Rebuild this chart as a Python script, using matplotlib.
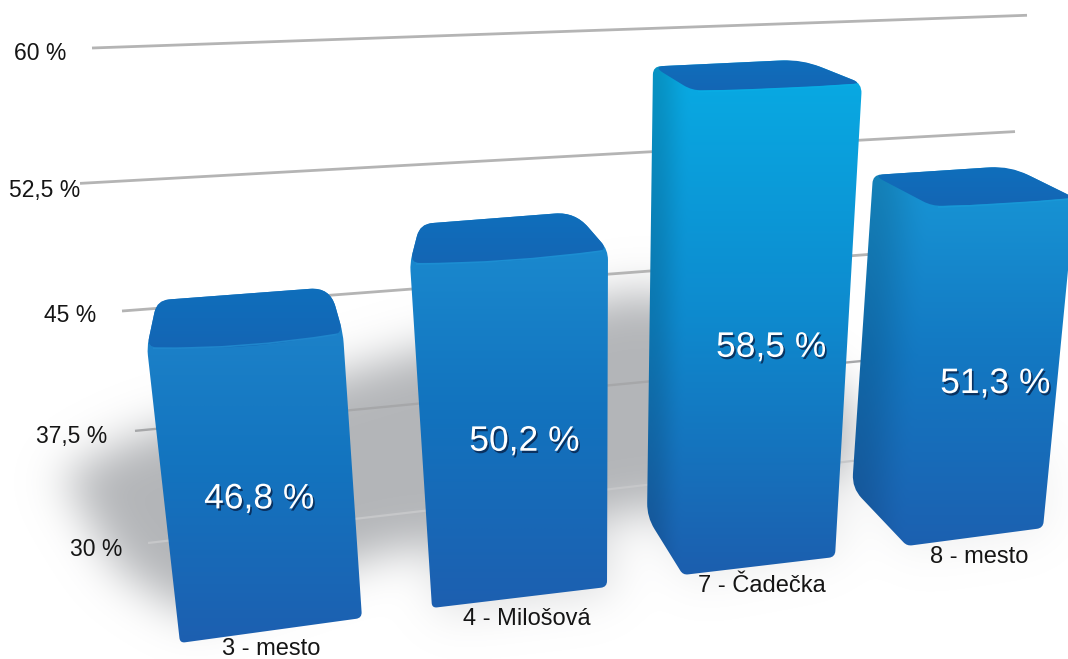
import numpy as np
import matplotlib
matplotlib.use("Agg")
import matplotlib.pyplot as plt
import matplotlib.patheffects as pe
from matplotlib.colors import LinearSegmentedColormap, to_rgb
from matplotlib.patches import PathPatch
from matplotlib.path import Path

# data
categories = ["3 - mesto", "4 - Milošová", "7 - Čadečka", "8 - mesto"]
values = [46.8, 50.2, 58.5, 51.3]
grid_values = [30, 37.5, 45, 52.5, 60]

W, H = 1068, 659
plt.rcParams["font.family"] = ["Liberation Sans", "DejaVu Sans"]

# the picture is a tilted 3d render, so the layout is given in pixels per bar
px_per_unit = [17.6, 17.08, 17.0, 15.96]
base_left = [(180, 643), (432, 608), (683, 575), (907, 546)]
base_right = [(362, 618), (607, 587), (835, 557), (1043, 528)]
side_base = [None, None, (647, 517), (852, 488)]
front_left_x = [147, 410, 692, 932]
front_right = [(343, -14), (608, -13), (862, -7), (1075, -8)]
back_left = [(157, -47), (420, -39), (653, -24), (873, -31)]
back_right = [(330, -60), (575, -51), (802, -31), (1010, -40)]
front_sag = [8, 6, 2, 2]
face_colors = [("#1F86CC", "#1374BF", "#1D5FB0"),
               ("#1C8ED2", "#1273BE", "#1D5FB0"),
               ("#08ACE4", "#0E8ACE", "#1C5EAE"),
               ("#1898D7", "#1378C2", "#1C60B0")]
label_nudge = [(1, -6), (10, -5), (3, 3), (6, -4)]
cat_pos = [(271, 649), (527, 619), (762, 586), (979, 557)]
tick_pos = [(96, 550), (72, 436), (70, 315), (45, 190), (40, 53)]
grid_x0 = [148, 135, 122, 80, 92]
grid_x1 = [1000, 1000, 1020, 1015, 1027]
grid_cols = ["#C6C7C9", "#A6A7A9", "#B4B4B4", "#B4B4B4", "#B4B4B4"]
grid_lw = [1.6, 1.7, 2.0, 2.0, 2.0]


def rounded(pts, radii):
    """Closed path through pts with the corners cut by quadratic curves."""
    verts, codes = [], []
    n = len(pts)
    for i in range(n):
        p = np.array(pts[i], float)
        a = np.array(pts[i - 1], float)
        b = np.array(pts[(i + 1) % n], float)
        ra = min(radii[i], np.linalg.norm(a - p) / 2)
        rb = min(radii[i], np.linalg.norm(b - p) / 2)
        p0 = p + (a - p) / np.linalg.norm(a - p) * ra
        p1 = p + (b - p) / np.linalg.norm(b - p) * rb
        verts += [p0, p, p1]
        codes += [Path.MOVETO if i == 0 else Path.LINETO, Path.CURVE3, Path.CURVE3]
    verts.append(verts[0])
    codes.append(Path.CLOSEPOLY)
    return Path(verts, codes)


def blurred(polys, sigma):
    """Polygon mask on the pixel grid, gaussian blurred through a padded fft."""
    yy, xx = np.mgrid[0:H, 0:W]
    grid = np.c_[xx.ravel() + 0.5, yy.ravel() + 0.5]
    mask = np.zeros((H, W))
    for poly, strength in polys:
        inside = Path(poly).contains_points(grid).reshape(H, W)
        mask = np.maximum(mask, inside * strength)
    size = (2 * H, 2 * W)  # padding keeps the blur from wrapping round the edges
    fy = np.fft.fftfreq(size[0])[:, None]
    fx = np.fft.rfftfreq(size[1])[None, :]
    kernel = np.exp(-2 * (np.pi * sigma) ** 2 * (fx ** 2 + fy ** 2))
    out = np.fft.irfft2(np.fft.rfft2(mask, s=size) * kernel, s=size)[:H, :W]
    return np.clip(out, 0, 1)


fig = plt.figure(figsize=(W / 100, H / 100), dpi=100)
ax = fig.add_axes([0, 0, 1, 1])

# soft floor shadow behind the bars
shadow = blurred([
    ([(62, 475), (130, 440), (380, 362), (630, 292), (700, 300), (850, 400),
      (855, 470), (625, 512), (385, 552), (190, 615), (120, 570)], 1.0),
    ([(640, 500), (840, 480), (840, 550), (690, 578)], 0.3),
    ([(860, 480), (1045, 450), (1045, 530), (910, 550)], 0.22),
    ([(430, 540), (612, 520), (612, 592), (440, 612)], 0.45),
], 22)
rgba = np.ones((H, W, 4))
rgba[..., :3] = to_rgb("#B3B5B8")
rgba[..., 3] = shadow
ax.imshow(rgba, extent=(0, W, H, 0), aspect="auto", zorder=1, interpolation="bilinear")

# gridlines, bending with height like the reference's perspective
for v, x0, x1, col, lw in zip(grid_values, grid_x0, grid_x1, grid_cols, grid_lw):
    t = (v - 30) / 30
    y0 = 543 - 433 * t - 62 * t ** 2
    slope = -0.1165 + 0.0815 * t
    ax.plot([x0, x1], [y0, y0 + slope * (x1 - x0)], color=col, lw=lw,
            solid_capstyle="butt", zorder=2)

for v, (x, y) in zip(grid_values, tick_pos):
    lab = f"{v:g} %".replace(".", ",")
    ax.text(x, y, lab, ha="center", va="center", fontsize=16.5, color="#151515", zorder=6)

for i, v in enumerate(values):
    bx, by = base_left[i]
    top = by - px_per_unit[i] * (v - 30)
    fl = (front_left_x[i], top)
    fr = (front_right[i][0], top + front_right[i][1])
    bl = (back_left[i][0], top + back_left[i][1])
    br = (back_right[i][0], top + back_right[i][1])
    sb = side_base[i]

    if sb is None:
        outline = [bl, fl, (bx, by), base_right[i], fr, br]
        radii = [14, 8, 5, 6, 10, 20]
    else:
        outline = [bl, sb, (bx, by), base_right[i], fr, br]
        radii = [8, 14, 5, 6, 10, 24]
    body = rounded(outline, radii)

    # body: vertical gradient, darkened toward the visible left side
    y0, y1 = min(br[1], bl[1]) - 2, max(by, base_right[i][1]) + 2
    x0, x1 = min(p[0] for p in outline) - 2, max(p[0] for p in outline) + 2
    cmap = LinearSegmentedColormap.from_list("face", face_colors[i])
    yy, xx = np.mgrid[y0:y1:400j, x0:x1:300j]
    img = cmap((yy - y0) / (y1 - y0))[..., :3]
    if sb is not None:
        frac = np.clip((yy - bl[1]) / (sb[1] - bl[1]), 0, 1)
        left = bl[0] + (sb[0] - bl[0]) * frac
        front = fl[0] + (bx - fl[0]) * np.clip((yy - fl[1]) / (by - fl[1]), 0, 1)
        u = np.clip((xx - left) / (front - left), 0, 1)
        shade = 0.86 + 0.14 * u * u * (3 - 2 * u)
        img = img * shade[..., None]
    im = ax.imshow(img, extent=(x0, x1, y1, y0), aspect="auto", zorder=3,
                   interpolation="bilinear")
    im.set_clip_path(body, transform=ax.transData)

    # top face with a curved front edge and a thin lit rim
    mid = ((fl[0] + fr[0]) / 2, (fl[1] + fr[1]) / 2 + front_sag[i])
    top_face = rounded([bl, fl, mid, fr, br], [12, 10, 500, 10, 20])
    tcmap = LinearSegmentedColormap.from_list("top", ["#0F6FBC", "#1465B4"])
    grad = tcmap(np.linspace(0, 1, 64))[:, None, :3]
    tim = ax.imshow(grad, extent=(x0, x1, fl[1] + 4, br[1] - 2), aspect="auto", zorder=4,
                    interpolation="bilinear")
    tim.set_clip_path(top_face, transform=ax.transData)
    rim = Path([(fl[0] + 6, fl[1] + 1), (mid[0], mid[1] + 1), (fr[0] - 6, fr[1] + 1)],
               [Path.MOVETO, Path.CURVE3, Path.CURVE3])
    ax.add_patch(PathPatch(rim, fc="none", ec=face_colors[i][0], lw=1.2, zorder=4))

    # value label
    my = (top + (by + base_right[i][1]) / 2) / 2 + 16 + label_nudge[i][1]
    mx = ((fl[0] + fr[0]) / 2 + (bx + base_right[i][0]) / 2) / 2 + label_nudge[i][0]
    ax.text(mx, my, f"{v:.1f} %".replace(".", ","), ha="center", va="center", fontsize=25.5,
            color="white", zorder=6,
            path_effects=[pe.withSimplePatchShadow(offset=(1.2, -1.6), shadow_rgbFace="#08264F",
                                                   alpha=0.85)])

    ax.text(cat_pos[i][0], cat_pos[i][1], categories[i], ha="center", va="center",
            fontsize=17, color="#151515", zorder=6)

ax.set_xlim(0, W)
ax.set_ylim(H, 0)
ax.axis("off")
fig.savefig("out.png", dpi=100, facecolor="white")
plt.close(fig)
